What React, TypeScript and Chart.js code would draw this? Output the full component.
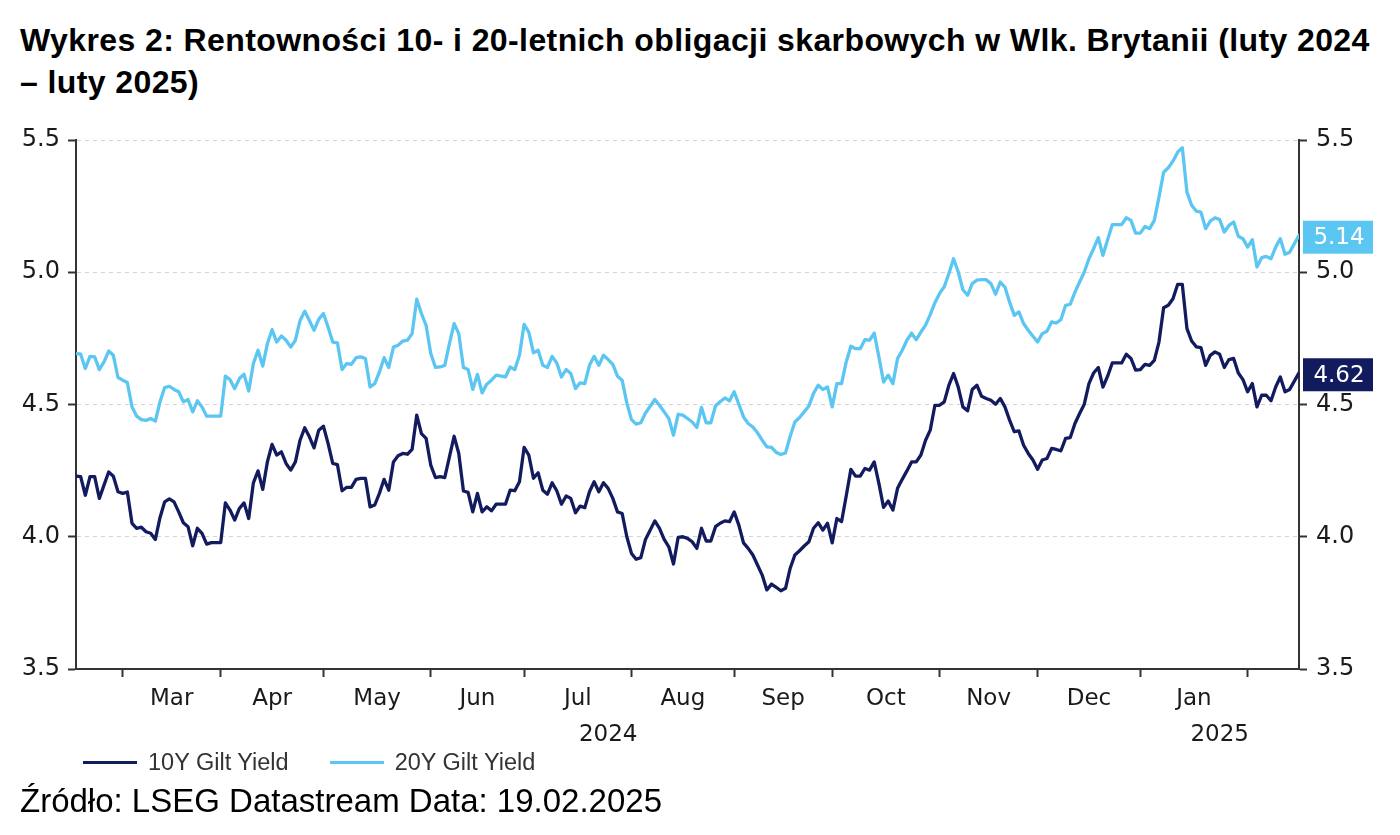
import React, { useEffect, useRef } from "react";
import { Chart, registerables } from "chart.js";

Chart.register(...registerables);

// trading-day axis: weekdays from first to last observation
const START_DATE = "2024-02-16";
const END_DATE = "2025-02-18";

const seriesNames = ["10Y Gilt Yield", "20Y Gilt Yield"];
const monthLabels = ["Mar", "Apr", "May", "Jun", "Jul", "Aug", "Sep", "Oct", "Nov", "Dec", "Jan"];
const yearLabels = ["2024", "2025"];
const yTicks = [3.5, 4.0, 4.5, 5.0, 5.5];

// one value per trading day (null = not read)
const gilt10y = [
  4.229, 4.227, 4.157, 4.227, 4.227, 4.145, 4.195, 4.245, 4.229, 4.170,
  4.164, 4.169, 4.051, 4.032, 4.036, 4.019, 4.013, 3.990, 4.073, 4.132,
  4.143, 4.132, 4.094, 4.053, 4.038, 3.966, 4.032, 4.013, 3.972, 3.978,
  3.978, 3.978, 4.128, 4.101, 4.063, 4.107, 4.128, 4.069, 4.204, 4.249,
  4.179, 4.283, 4.349, 4.309, 4.321, 4.277, 4.252, 4.283, 4.365, 4.412,
  4.378, 4.336, 4.403, 4.418, 4.353, 4.277, 4.273, 4.174, 4.187, 4.187,
  4.217, 4.221, 4.221, 4.113, 4.120, 4.164, 4.217, 4.176, 4.283, 4.306,
  4.315, 4.312, 4.330, 4.460, 4.390, 4.372, 4.271, 4.224, 4.227, 4.224,
  4.302, 4.380, 4.315, 4.173, 4.168, 4.094, 4.164, 4.094, 4.113, 4.098,
  4.123, null, 4.123, 4.176, 4.174, 4.208, 4.338, 4.309, 4.221, 4.242,
  4.176, 4.161, 4.204, 4.174, 4.123, 4.154, 4.145, 4.091, 4.116, 4.110,
  4.170, 4.208, 4.170, 4.204, 4.183, 4.145, 4.094, 4.088, 4.000, 3.937,
  3.915, 3.921, 3.990, null, 4.060, 4.032, 3.990, 3.962, 3.897, 3.998,
  4.000, 3.994, 3.981, 3.956, 4.032, 3.984, 3.984, 4.038, 4.051, 4.060,
  4.057, 4.094, 4.044, 3.977, 3.956, 3.931, 3.893, 3.855, 3.799, 3.821,
  3.809, 3.796, 3.805, 3.881, 3.931, 3.947, 3.965, 3.981, 4.032, 4.053,
  4.025, 4.051, 3.977, 4.069, 4.057, 4.154, 4.255, 4.229, 4.229, 4.258,
  4.252, 4.283, 4.202, 4.111, 4.135, 4.101, 4.183, 4.217, 4.249, 4.283,
  4.283, 4.309, 4.365, 4.403, 4.497, 4.497, 4.510, 4.573, 4.617, 4.566,
  4.491, 4.476, 4.557, 4.573, 4.531, 4.523, 4.516, 4.501, 4.523, 4.491,
  4.441, 4.397, 4.400, 4.346, 4.315, 4.290, 4.255, 4.290, 4.296, 4.334,
  4.330, 4.325, 4.372, 4.375, 4.428, 4.466, 4.501, 4.579, 4.619, 4.640,
  4.566, 4.607, 4.657, 4.657, 4.657, 4.690, 4.674, 4.630, 4.632, 4.652,
  4.648, 4.667, 4.736, 4.866, 4.875, 4.900, 4.954, 4.954, 4.787, 4.740,
  4.718, 4.715, 4.648, 4.686, 4.699, 4.690, 4.640, 4.670, 4.674, 4.619,
  4.594, 4.548, 4.579, 4.491, 4.535, 4.535, 4.514, 4.566, 4.604, 4.548,
  4.557, null, 4.620,
];

const gilt20y = [
  4.693, 4.690, 4.636, 4.682, 4.680, 4.632, 4.661, 4.702, 4.686, 4.602,
  4.592, 4.583, 4.491, 4.456, 4.443, 4.440, 4.447, 4.437, 4.510, 4.564,
  4.569, 4.557, 4.548, 4.510, 4.519, 4.472, 4.514, 4.491, 4.456, 4.456,
  4.456, 4.456, 4.607, 4.594, 4.560, 4.598, 4.614, 4.551, 4.655, 4.705,
  4.645, 4.730, 4.783, 4.736, 4.759, 4.743, 4.717, 4.743, 4.818, 4.853,
  4.818, 4.781, 4.822, 4.844, 4.793, 4.736, 4.733, 4.632, 4.655, 4.652,
  4.677, 4.680, 4.674, 4.566, 4.579, 4.623, 4.677, 4.640, 4.717, 4.724,
  4.740, 4.743, 4.768, 4.898, 4.844, 4.799, 4.693, 4.640, 4.642, 4.648,
  4.730, 4.806, 4.768, 4.640, 4.632, 4.557, 4.614, 4.544, 4.577, 4.592,
  4.611, null, 4.604, 4.642, 4.632, 4.686, 4.803, 4.774, 4.695, 4.705,
  4.648, 4.640, 4.682, 4.657, 4.604, 4.632, 4.617, 4.560, 4.582, 4.579,
  4.648, 4.682, 4.648, 4.686, 4.670, 4.652, 4.607, 4.592, 4.506, 4.443,
  4.426, 4.431, 4.468, null, 4.519, 4.497, 4.472, 4.447, 4.384, 4.463,
  4.460, 4.447, 4.434, 4.413, 4.489, 4.431, 4.431, 4.495, 4.510, 4.525,
  4.514, 4.548, 4.501, 4.453, 4.428, 4.415, 4.393, 4.365, 4.340, 4.338,
  4.319, 4.311, 4.317, 4.380, 4.434, 4.451, 4.472, 4.494, 4.542, 4.573,
  4.557, 4.566, 4.491, 4.579, 4.579, 4.661, 4.720, 4.711, 4.711, 4.745,
  4.743, 4.770, 4.680, 4.585, 4.611, 4.579, 4.674, 4.705, 4.743, 4.770,
  4.745, 4.774, 4.800, 4.840, 4.885, 4.920, 4.945, 4.995, 5.051, 5.001,
  4.934, 4.913, 4.957, 4.970, 4.972, 4.972, 4.957, 4.917, 4.963, 4.944,
  4.887, 4.837, 4.850, 4.806, 4.781, 4.758, 4.736, 4.768, 4.777, 4.812,
  4.808, 4.821, 4.875, 4.879, 4.925, 4.963, 5.001, 5.051, 5.089, 5.131,
  5.064, 5.123, 5.180, 5.180, 5.180, 5.206, 5.196, 5.148, 5.148, 5.173,
  5.165, 5.196, 5.284, 5.378, 5.395, 5.420, 5.454, 5.471, 5.303, 5.253,
  5.231, 5.227, 5.165, 5.193, 5.206, 5.199, 5.152, 5.177, 5.190, 5.136,
  5.127, 5.095, 5.123, 5.020, 5.055, 5.060, 5.051, 5.095, 5.127, 5.068,
  5.076, null, 5.140,
];

const COLOR_10Y = "#131b5f";
const COLOR_20Y = "#5cc6f2";
const AXIS_COLOR = "#333333";
const TEXT_COLOR = "#1a1a1a";
const GRID_COLOR = "#d4d4d4";
const TICK_FONT = "DejaVu Sans";
const TEXT_FONT = '"Liberation Sans", Arial, Helvetica, sans-serif';

function tradingDays(from: string, to: string): Date[] {
  const out: Date[] = [];
  const d = new Date(from + "T00:00:00Z");
  const end = new Date(to + "T00:00:00Z");
  while (d <= end) {
    const wd = d.getUTCDay();
    if (wd !== 0 && wd !== 6) out.push(new Date(d));
    d.setUTCDate(d.getUTCDate() + 1);
  }
  return out;
}

const days = tradingDays(START_DATE, END_DATE);
const lastIdx = days.length - 1;

const monthStarts: number[] = [];
const yearStarts: number[] = [0];
days.forEach((d, i) => {
  if (i === 0) return;
  if (d.getUTCMonth() !== days[i - 1].getUTCMonth()) monthStarts.push(i);
  if (d.getUTCFullYear() !== days[i - 1].getUTCFullYear()) yearStarts.push(i);
});
// labels sit in the middle of each complete month / each year's span
const monthMids = monthStarts.slice(0, -1).map((s, i) => (s + monthStarts[i + 1]) / 2);
const yearMids = yearStarts.map((s, i) => (s + (yearStarts[i + 1] ?? lastIdx)) / 2);

const toPoints = (vals: (number | null)[]) => vals.map((v, i) => ({ x: i, y: v }));

// coloured boxes with the last value, on the right axis
const lastValueTags = {
  id: "lastValueTags",
  afterDraw(chart: Chart) {
    const { ctx, chartArea, scales } = chart;
    const yScale = scales.y;
    chart.data.datasets.forEach((ds: any) => {
      const pts = ds.data as { x: number; y: number | null }[];
      const last = pts[pts.length - 1].y;
      if (last == null) return;
      const py = yScale.getPixelForValue(last) + 2;
      const x0 = chartArea.right + 4;
      ctx.save();
      ctx.fillStyle = ds.borderColor;
      ctx.fillRect(x0, py - 16.5, 70, 33);
      ctx.fillStyle = "#ffffff";
      ctx.font = `23px "${TICK_FONT}"`;
      ctx.textAlign = "center";
      ctx.textBaseline = "middle";
      ctx.fillText(last.toFixed(2), x0 + 36, py + 1);
      ctx.restore();
    });
  },
};

function YieldChart(): React.ReactElement {
  const canvasRef = useRef<HTMLCanvasElement | null>(null);

  useEffect(() => {
    if (!canvasRef.current) return;
    const chart = new Chart(canvasRef.current, {
      type: "line",
      data: {
        datasets: [
          {
            label: seriesNames[0],
            data: toPoints(gilt10y) as any,
            borderColor: COLOR_10Y,
            backgroundColor: COLOR_10Y,
            borderWidth: 3.3,
            pointRadius: 0,
            tension: 0,
            spanGaps: true,
            borderJoinStyle: "round",
            borderCapStyle: "round",
          },
          {
            label: seriesNames[1],
            data: toPoints(gilt20y) as any,
            borderColor: COLOR_20Y,
            backgroundColor: COLOR_20Y,
            borderWidth: 3.3,
            pointRadius: 0,
            tension: 0,
            spanGaps: true,
            borderJoinStyle: "round",
            borderCapStyle: "round",
          },
        ],
      },
      options: {
        responsive: true,
        maintainAspectRatio: false,
        animation: false,
        layout: { padding: { top: 30, bottom: 1, left: 0, right: 0 } },
        plugins: {
          legend: { display: false },
          title: { display: false },
          tooltip: { mode: "index", intersect: false },
        },
        scales: {
          x: {
            type: "linear",
            position: "bottom",
            min: 0,
            max: lastIdx,
            weight: 0,
            afterBuildTicks: (s: any) => {
              s.ticks = monthStarts.map((v) => ({ value: v }));
            },
            afterFit: (s: any) => {
              s.height = 8;
            },
            ticks: { display: false },
            grid: {
              drawOnChartArea: false,
              drawTicks: true,
              tickLength: 8,
              tickColor: AXIS_COLOR,
              tickWidth: 2,
              color: AXIS_COLOR,
            },
            border: { display: true, color: AXIS_COLOR, width: 2 },
          },
          xMonth: {
            type: "linear",
            position: "bottom",
            min: 0,
            max: lastIdx,
            weight: 1,
            afterBuildTicks: (s: any) => {
              s.ticks = monthMids.map((v) => ({ value: v }));
            },
            afterFit: (s: any) => {
              s.height = 35;
            },
            ticks: {
              autoSkip: false,
              maxRotation: 0,
              padding: 8,
              color: TEXT_COLOR,
              font: { family: TICK_FONT, size: 23 },
              callback: (_v: any, i: number) => monthLabels[i],
            },
            grid: { display: false, drawTicks: false },
            border: { display: false },
          },
          xYear: {
            type: "linear",
            position: "bottom",
            min: 0,
            max: lastIdx,
            weight: 2,
            afterBuildTicks: (s: any) => {
              s.ticks = yearMids.map((v) => ({ value: v }));
            },
            afterFit: (s: any) => {
              s.height = 37;
            },
            ticks: {
              autoSkip: false,
              maxRotation: 0,
              padding: 9,
              color: TEXT_COLOR,
              font: { family: TICK_FONT, size: 23 },
              callback: (_v: any, i: number) => yearLabels[i],
            },
            grid: { display: false, drawTicks: false },
            border: { display: false },
          },
          y: {
            type: "linear",
            position: "left",
            min: yTicks[0],
            max: yTicks[yTicks.length - 1],
            afterBuildTicks: (s: any) => {
              s.ticks = yTicks.map((v) => ({ value: v }));
            },
            afterFit: (s: any) => {
              s.width = 76;
            },
            ticks: {
              padding: 8,
              color: TEXT_COLOR,
              font: { family: TICK_FONT, size: 24 },
              callback: (v: any) => Number(v).toFixed(1),
            },
            grid: {
              color: GRID_COLOR,
              lineWidth: 1,
              tickLength: 8,
              tickColor: AXIS_COLOR,
              tickWidth: 2,
              tickBorderDash: [],
            },
            border: { display: true, color: AXIS_COLOR, width: 2, dash: [4, 4] },
          },
          y2: {
            type: "linear",
            position: "right",
            min: yTicks[0],
            max: yTicks[yTicks.length - 1],
            afterBuildTicks: (s: any) => {
              s.ticks = yTicks.map((v) => ({ value: v }));
            },
            afterFit: (s: any) => {
              s.width = 101;
            },
            ticks: {
              padding: 9,
              color: TEXT_COLOR,
              font: { family: TICK_FONT, size: 24 },
              callback: (v: any) => Number(v).toFixed(1),
            },
            grid: {
              drawOnChartArea: false,
              tickLength: 8,
              tickColor: AXIS_COLOR,
              tickWidth: 2,
              color: AXIS_COLOR,
            },
            border: { display: true, color: AXIS_COLOR, width: 2 },
          },
        },
      } as any,
      plugins: [lastValueTags],
    });
    return () => {
      chart.destroy();
    };
  }, []);

  return <canvas ref={canvasRef} />;
}

const legendColors = [COLOR_10Y, COLOR_20Y];

export default function App(): React.ReactElement {
  return (
    <div
      style={{
        position: "absolute",
        left: 0,
        top: 0,
        width: 1400,
        height: 835,
        background: "#ffffff",
        overflow: "hidden",
      }}
    >
      <div
        style={{
          position: "absolute",
          left: 20,
          top: 19,
          font: `bold 32px ${TEXT_FONT}`,
          letterSpacing: "0.4px",
          lineHeight: "42px",
          color: "#000",
          whiteSpace: "nowrap",
        }}
      >
        Wykres 2: Rentowności 10- i 20-letnich obligacji skarbowych w Wlk. Brytanii (luty 2024
        <br />– luty 2025)
      </div>

      <div style={{ position: "absolute", left: 0, top: 110, width: 1400, height: 640 }}>
        <YieldChart />
      </div>

      <div
        style={{
          position: "absolute",
          left: 83,
          top: 748,
          display: "flex",
          alignItems: "center",
          font: `23.5px ${TEXT_FONT}`,
          lineHeight: "28px",
          color: "#333",
        }}
      >
        {seriesNames.map((name, i) => (
          <React.Fragment key={name}>
            <span
              style={{
                display: "inline-block",
                width: 54,
                height: 3,
                background: legendColors[i],
                marginLeft: i === 0 ? 0 : 41,
              }}
            />
            <span style={{ marginLeft: 11 }}>{name}</span>
          </React.Fragment>
        ))}
      </div>

      <div
        style={{
          position: "absolute",
          left: 20,
          top: 781,
          font: `33px ${TEXT_FONT}`,
          lineHeight: "40px",
          color: "#000",
          whiteSpace: "nowrap",
        }}
      >
        Źródło: LSEG Datastream Data: 19.02.2025
      </div>
    </div>
  );
}
